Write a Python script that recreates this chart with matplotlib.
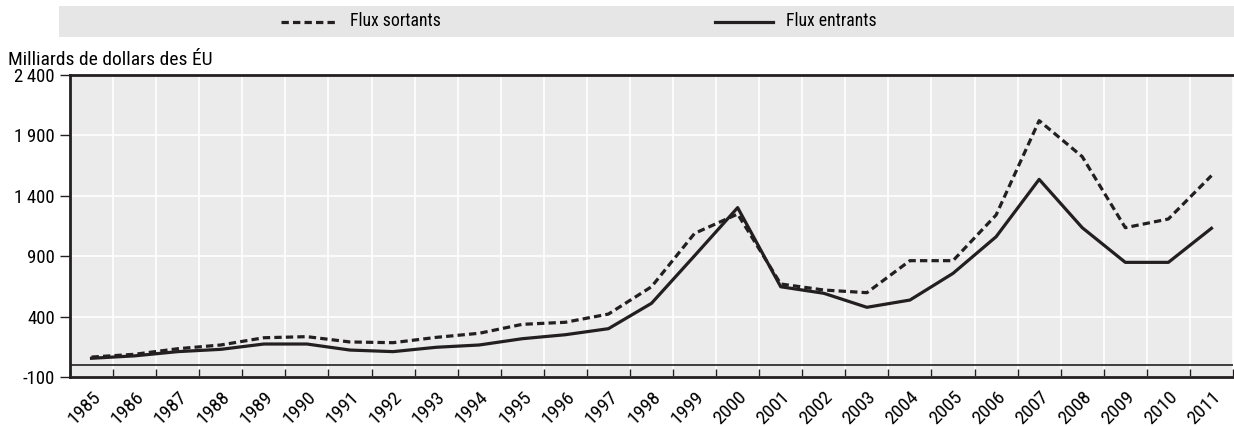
import matplotlib
matplotlib.use('Agg')
import matplotlib.pyplot as plt
import numpy as np

plt.rcParams['font.family'] = ['Roboto Condensed', 'DejaVu Sans']

years = [str(y) for y in range(1985, 2012)]
flux_sortants = [65, 88, 134, 165, 225, 234, 190, 184, 228, 262, 336, 353, 421, 647, 1089,
                 1249, 670, 620, 598, 863, 863, 1241, 2022, 1724, 1136, 1208, 1567]
flux_entrants = [55, 75, 110, 129, 173, 173, 123, 110, 146, 165, 217, 250, 300, 510, 904,
                 1302, 647, 593, 477, 537, 758, 1061, 1536, 1136, 849, 849, 1131]
yticks = [-100, 400, 900, 1400, 1900, 2400]
ytick_labels = ['-100', '400', '900', '1\u2009400', '1\u2009900', '2\u2009400']

dark = '#231f20'
dash = (0, (2.3, 1.3))

fig = plt.figure(figsize=(12.34, 4.26), dpi=100)
ax = fig.add_axes([70 / 1234, 1 - 377 / 426, 1163 / 1234, 302 / 426])
ax.set_facecolor('#ebebeb')

x = np.arange(len(years))
ax.plot(x, flux_sortants, color=dark, lw=2.3, ls=dash)
ax.plot(x, flux_entrants, color=dark, lw=2.3)
ax.axhline(0, color=dark, lw=1.2)

ax.set_xlim(-0.5, len(years) - 0.5)
ax.set_ylim(-100, 2400)
ax.set_yticks(yticks)
ax.set_yticklabels(ytick_labels, fontsize=13.5)
ax.set_xticks(x)
ax.set_xticklabels(years, rotation=45, ha='right', va='top', rotation_mode='anchor', fontsize=14)
ax.tick_params(axis='x', length=0, pad=8)
ax.set_xticks(np.arange(-0.5, len(years)), minor=True)
ax.tick_params(axis='x', which='minor', direction='in', length=6, width=1, color=dark)
ax.tick_params(axis='y', direction='out', length=7, width=1, color=dark, pad=4)
ax.grid(True, which='minor', axis='x', color='white', lw=1.2)
ax.grid(True, which='major', axis='y', color='white', lw=1.2)
ax.grid(False, which='major', axis='x')
ax.set_axisbelow(True)

for side in ['top', 'left', 'bottom']:
    ax.spines[side].set_color(dark)
    ax.spines[side].set_linewidth(2)
ax.spines['right'].set_visible(False)

fig.text(8 / 1234, 1 - 60 / 426, 'Milliards de dollars des \u00c9U', fontsize=14, va='center', ha='left')

# legend band
band = fig.add_axes([59 / 1234, 1 - 37 / 426, 1175 / 1234, 31 / 426])
band.set_facecolor('#e6e6e7')
for s in band.spines.values():
    s.set_visible(False)
band.set_xticks([])
band.set_yticks([])
band.set_xlim(59, 1234)
band.set_ylim(0, 1)
band.plot([281, 335], [0.5, 0.5], color=dark, lw=2.3, ls=dash)
band.text(350, 0.5, 'Flux sortants', fontsize=12.7, va='center', ha='left')
band.plot([715, 773], [0.5, 0.5], color=dark, lw=2.3)
band.text(786, 0.5, 'Flux entrants', fontsize=12.7, va='center', ha='left')

fig.savefig('out.png', dpi=100)
